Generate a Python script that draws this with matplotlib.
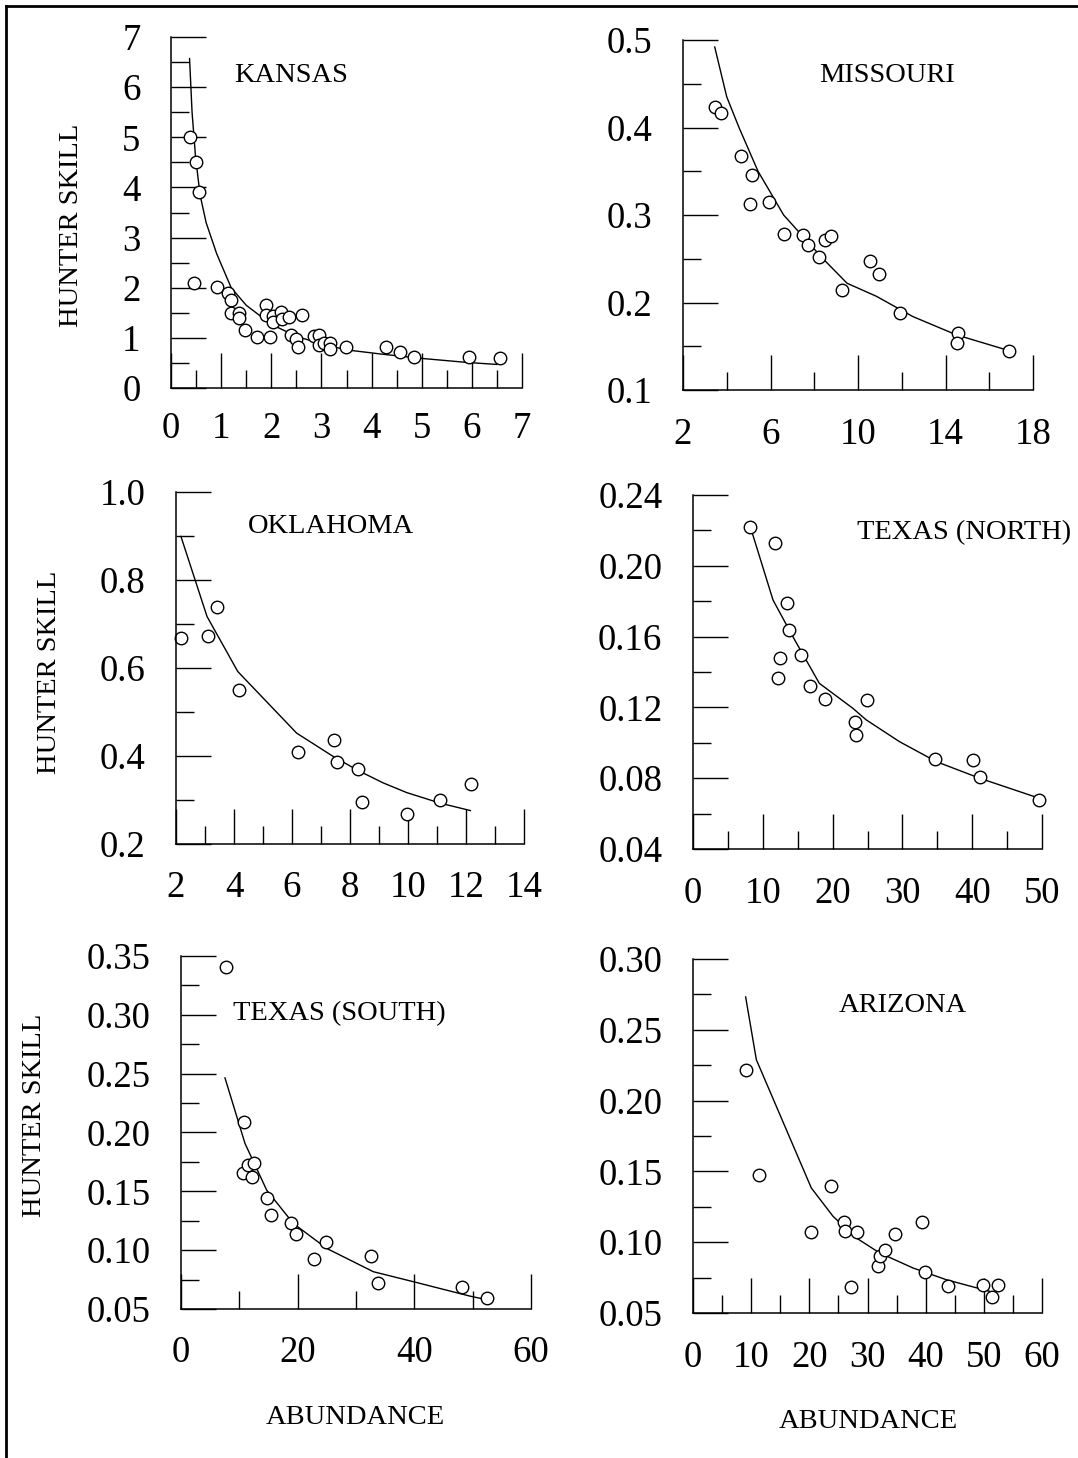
import matplotlib
matplotlib.use("Agg")
import matplotlib.pyplot as plt
from matplotlib.lines import Line2D

plt.rcParams['font.family'] = ['Liberation Serif', 'DejaVu Serif']

# Kansas
kansas_x = [0.37, 0.49, 0.56, 0.45, 0.91, 1.13, 1.2, 1.2, 1.36, 1.36, 1.47, 1.71, 1.97,
            1.9, 1.9, 2.03, 2.03, 2.2, 2.21, 2.36, 2.61, 2.39, 2.5, 2.53, 2.85, 2.95,
            2.95, 3.06, 3.17, 3.18, 3.49, 4.29, 4.57, 4.85, 5.95, 6.57]
kansas_y = [5.01, 4.5, 3.91, 2.1, 2.01, 1.9, 1.75, 1.49, 1.5, 1.39, 1.15, 1.02, 1.02,
            1.65, 1.45, 1.43, 1.32, 1.52, 1.37, 1.41, 1.45, 1.05, 0.97, 0.82, 1.03, 1.05,
            0.85, 0.9, 0.9, 0.77, 0.81, 0.82, 0.71, 0.62, 0.61, 0.59]
kansas_fit_x = [0.37, 0.42, 0.49, 0.58, 0.7, 0.91, 1.2, 1.5, 2.0, 2.5, 3.0, 3.5,
                4.25, 5.0, 5.9, 6.5]
kansas_fit_y = [6.57, 5.5, 4.6, 3.85, 3.3, 2.68, 2.0, 1.65, 1.27, 1.03, 0.88, 0.76,
                0.67, 0.59, 0.51, 0.47]

# Missouri
missouri_x = [3.45, 3.75, 4.64, 5.17, 5.08, 5.92, 6.6, 7.49, 7.71, 8.22, 8.51, 8.78,
              9.27, 10.56, 10.94, 11.9, 14.57, 14.54, 16.89]
missouri_y = [0.423, 0.417, 0.367, 0.346, 0.313, 0.315, 0.278, 0.277, 0.266, 0.252,
              0.271, 0.276, 0.214, 0.247, 0.233, 0.188, 0.165, 0.154, 0.145]
missouri_fit_x = [3.45, 4.0, 4.56, 5.43, 6.6, 8.4, 9.5, 10.85, 12.5, 14.5, 16.9]
missouri_fit_y = [0.492, 0.435, 0.40, 0.35, 0.30, 0.25, 0.222, 0.207, 0.184, 0.163, 0.145]

# Oklahoma
oklahoma_x = [2.17, 3.1, 3.43, 4.17, 6.2, 7.46, 7.56, 8.28, 8.43, 9.97, 11.12, 12.18]
oklahoma_y = [0.668, 0.673, 0.738, 0.551, 0.408, 0.437, 0.386, 0.371, 0.295, 0.268,
              0.299, 0.336]
oklahoma_fit_x = [2.17, 3.07, 4.13, 6.16, 7.42, 8.28, 9.14, 9.95, 11.1, 12.15]
oklahoma_fit_y = [0.899, 0.717, 0.592, 0.452, 0.399, 0.367, 0.339, 0.317, 0.293, 0.276]

# Texas (North)
txn_x = [8.21, 11.7, 13.47, 13.75, 12.42, 12.18, 15.52, 16.8, 18.86, 24.93, 23.16,
         23.4, 34.62, 40.1, 41.07, 49.5]
txn_y = [0.2217, 0.213, 0.179, 0.164, 0.1477, 0.1368, 0.1496, 0.132, 0.1247, 0.1242,
         0.112, 0.1044, 0.0907, 0.0903, 0.0805, 0.0677]
txn_fit_x = [8.36, 11.46, 14.3, 18.1, 22.9, 24.8, 29.6, 34.9, 41.07, 49.66]
txn_fit_y = [0.2202, 0.1807, 0.16, 0.1336, 0.1195, 0.113, 0.1006, 0.0893, 0.08, 0.0686]

# Texas (South)
txs_x = [7.66, 10.86, 10.69, 11.43, 12.5, 12.17, 14.69, 15.37, 18.8, 19.71, 22.8,
         24.86, 32.5, 33.7, 48.1, 52.5]
txs_y = [0.341, 0.2085, 0.166, 0.172, 0.1737, 0.1624, 0.1445, 0.1298, 0.1227, 0.1137,
         0.0924, 0.1072, 0.0953, 0.0718, 0.0684, 0.0596]
txs_fit_x = [7.54, 10.97, 14.69, 19.26, 24.97, 32.97, 39.83, 49.5, 52.1]
txs_fit_y = [0.2464, 0.1907, 0.151, 0.1227, 0.1015, 0.0817, 0.0732, 0.061, 0.0582]

# Arizona
arizona_x = [9.05, 11.29, 20.34, 23.78, 25.96, 26.07, 28.2, 27.22, 31.8, 32.2, 32.95,
             34.67, 39.37, 39.83, 43.84, 49.86, 51.4, 52.44]
arizona_y = [0.2214, 0.1477, 0.107, 0.14, 0.114, 0.1077, 0.1072, 0.0684, 0.0834, 0.09,
             0.0947, 0.106, 0.114, 0.0787, 0.0693, 0.07, 0.0613, 0.07]
arizona_fit_x = [9.05, 10.89, 20.34, 24.07, 28.08, 32.09, 37.82, 43.55, 51.0]
arizona_fit_y = [0.2732, 0.2289, 0.1383, 0.1183, 0.103, 0.0924, 0.0818, 0.0735, 0.0653]

# ticks
kansas_xt = [0, 1, 2, 3, 4, 5, 6, 7]
kansas_yt = [0, 1, 2, 3, 4, 5, 6, 7]
kansas_ylab = ['0', '1', '2', '3', '4', '5', '6', '7']
missouri_xt = [2, 6, 10, 14, 18]
missouri_yt = [0.1, 0.2, 0.3, 0.4, 0.5]
missouri_ylab = ['0.1', '0.2', '0.3', '0.4', '0.5']
oklahoma_xt = [2, 4, 6, 8, 10, 12, 14]
oklahoma_yt = [0.2, 0.4, 0.6, 0.8, 1.0]
oklahoma_ylab = ['0.2', '0.4', '0.6', '0.8', '1.0']
txn_xt = [0, 10, 20, 30, 40, 50]
txn_yt = [0.04, 0.08, 0.12, 0.16, 0.20, 0.24]
txn_ylab = ['0.04', '0.08', '0.12', '0.16', '0.20', '0.24']
txs_xt = [0, 20, 40, 60]
txs_yt = [0.05, 0.10, 0.15, 0.20, 0.25, 0.30, 0.35]
txs_ylab = ['0.05', '0.10', '0.15', '0.20', '0.25', '0.30', '0.35']
arizona_xt = [0, 10, 20, 30, 40, 50, 60]
arizona_yt = [0.05, 0.10, 0.15, 0.20, 0.25, 0.30]
arizona_ylab = ['0.05', '0.10', '0.15', '0.20', '0.25', '0.30']

W, H = 1078, 1458
fig = plt.figure(figsize=(W / 100, H / 100), dpi=100)


def box(left, top, right, bottom):
    return [left / W, 1 - bottom / H, (right - left) / W, (bottom - top) / H]


panels = [
    dict(title='KANSAS', x=kansas_x, y=kansas_y, fx=kansas_fit_x, fy=kansas_fit_y,
         xt=kansas_xt, xm=0.5, yt=kansas_yt, ylab=kansas_ylab, ym=0.5,
         rect=box(171, 37, 522, 388), tpos=(234, 76), xpad=17),
    dict(title='MISSOURI', x=missouri_x, y=missouri_y, fx=missouri_fit_x, fy=missouri_fit_y,
         xt=missouri_xt, xm=2, yt=missouri_yt, ylab=missouri_ylab, ym=0.05,
         rect=box(683, 40, 1033, 390), tpos=(819, 75), xpad=20),
    dict(title='OKLAHOMA', x=oklahoma_x, y=oklahoma_y, fx=oklahoma_fit_x, fy=oklahoma_fit_y,
         xt=oklahoma_xt, xm=1, yt=oklahoma_yt, ylab=oklahoma_ylab, ym=0.1,
         rect=box(176, 492, 524, 844), tpos=(248, 527), xpad=19),
    dict(title='TEXAS (NORTH)', x=txn_x, y=txn_y, fx=txn_fit_x, fy=txn_fit_y,
         xt=txn_xt, xm=5, yt=txn_yt, ylab=txn_ylab, ym=0.02,
         rect=box(693, 495, 1042, 849), tpos=(857, 533), xpad=20),
    dict(title='TEXAS (SOUTH)', x=txs_x, y=txs_y, fx=txs_fit_x, fy=txs_fit_y,
         xt=txs_xt, xm=10, yt=txs_yt, ylab=txs_ylab, ym=0.025,
         rect=box(181, 956, 531, 1309), tpos=(233, 1014), xpad=19),
    dict(title='ARIZONA', x=arizona_x, y=arizona_y, fx=arizona_fit_x, fy=arizona_fit_y,
         xt=arizona_xt, xm=5, yt=arizona_yt, ylab=arizona_ylab, ym=0.025,
         rect=box(693, 959, 1042, 1313), tpos=(839, 1005), xpad=20),
]

for p in panels:
    ax = fig.add_axes(p['rect'])
    ax.plot(p['fx'], p['fy'], color='black', lw=1.0, clip_on=False)
    ax.plot(p['x'], p['y'], 'o', ms=9, mfc='white', mec='black', mew=1.0, clip_on=False)
    ax.set_xlim(p['xt'][0], p['xt'][-1])
    ax.set_ylim(p['yt'][0], p['yt'][-1])
    ax.set_xticks(p['xt'])
    ax.set_xticklabels([str(v) for v in p['xt']])
    ax.set_yticks(p['yt'])
    ax.set_yticklabels(p['ylab'])
    xm = [p['xt'][0] + p['xm'] * (2 * i + 1) for i in range(len(p['xt']) - 1)]
    ym = [(a + b) / 2 for a, b in zip(p['yt'][:-1], p['yt'][1:])]
    ax.set_xticks(xm, minor=True)
    ax.set_yticks(ym, minor=True)
    ax.spines['top'].set_visible(False)
    ax.spines['right'].set_visible(False)
    for s in ('left', 'bottom'):
        ax.spines[s].set_linewidth(1.1)
    ax.tick_params(which='both', direction='in', width=1.0, labelsize=26.5)
    ax.tick_params(which='major', length=25)
    ax.tick_params(which='minor', length=13)
    ax.tick_params(axis='x', which='major', pad=p['xpad'])
    ax.tick_params(axis='y', which='major', pad=22)
    ax.patch.set_alpha(0)
    tx, ty = p['tpos']
    fig.text(tx / W, 1 - ty / H, p['title'], fontsize=20.5, ha='left', va='center')

# axis labels
for (lx, ly) in [(71, 225), (50, 672), (35, 1115)]:
    fig.text(lx / W, 1 - ly / H, 'HUNTER SKILL', fontsize=20.5, rotation=90,
             ha='center', va='center')
for (lx, ly) in [(355, 1418), (868, 1421)]:
    fig.text(lx / W, 1 - ly / H, 'ABUNDANCE', fontsize=20.5, ha='center', va='center')

# frame (left and top edges)
fig.add_artist(Line2D([6 / W, 6 / W], [0, 1 - 5.5 / H], color='black', lw=2.0))
fig.add_artist(Line2D([6 / W, 1], [1 - 5.5 / H, 1 - 5.5 / H], color='black', lw=2.0))

fig.savefig('out.png', dpi=100)
